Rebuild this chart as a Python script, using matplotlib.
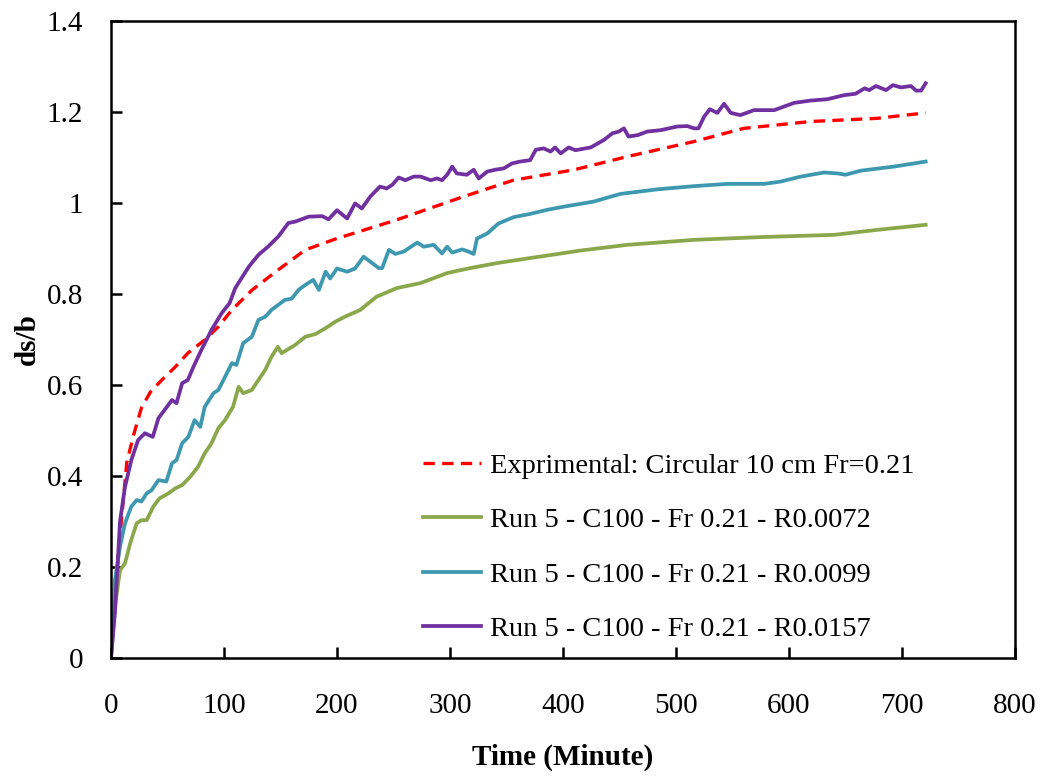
import matplotlib
matplotlib.use("Agg")
import matplotlib.pyplot as plt
from matplotlib.ticker import FuncFormatter

# ---------------- data ----------------
t_exp = [0, 4, 8, 14, 20, 27, 35, 45, 57, 68, 83, 95, 107, 125, 148, 172, 200,
         253, 312, 356, 410, 457, 516, 560, 619, 678, 721]
y_exp = [0, 0.15, 0.27, 0.43, 0.49, 0.55, 0.585, 0.611, 0.64, 0.67, 0.699, 0.728,
         0.765, 0.809, 0.853, 0.897, 0.922, 0.963, 1.014, 1.05, 1.073, 1.102,
         1.135, 1.164, 1.179, 1.186, 1.198]

t_r72 = [0, 3.5, 8, 12.4, 17, 22.7, 27, 31.6, 37.5, 43, 51, 57, 63, 70, 77, 83, 89,
         95, 101, 108, 113, 117, 124.7, 130.5, 136.5, 142, 147.7, 151, 155.7, 163,
         172, 181, 190, 198.5, 207, 220.6, 235, 253, 274, 297.5, 318, 341.8, 371,
         401, 414, 457, 516, 575, 640, 678.5, 721]
y_r72 = [0, 0.113, 0.193, 0.208, 0.252, 0.296, 0.303, 0.303, 0.333, 0.351, 0.362,
         0.373, 0.38, 0.398, 0.42, 0.45, 0.472, 0.505, 0.523, 0.552, 0.596, 0.582,
         0.589, 0.611, 0.633, 0.662, 0.684, 0.67, 0.677, 0.688, 0.706, 0.712, 0.725,
         0.739, 0.75, 0.765, 0.794, 0.813, 0.824, 0.846, 0.857, 0.868, 0.879, 0.89,
         0.895, 0.908, 0.919, 0.925, 0.93, 0.941, 0.952]

t_r99 = [0, 3.5, 8, 12.4, 18, 22.7, 27, 31.6, 36, 42, 49, 54, 58, 63, 68.5, 74, 79,
         83, 90.7, 95, 101, 107, 111, 117, 124.7, 130.5, 136.5, 142, 148, 154, 160,
         166, 172, 179, 184, 190, 194, 200, 209, 216, 223.6, 229.5, 237, 240, 246,
         251.7, 259, 271, 276.8, 285.6, 293, 297.5, 302, 310.8, 316.6, 321, 324,
         333, 343, 356.5, 371, 386, 401, 427, 451, 483.6, 516, 545.6, 578, 592.6,
         610.5, 631, 643, 650, 663.7, 693, 721]
y_r99 = [0, 0.171, 0.245, 0.296, 0.333, 0.347, 0.344, 0.362, 0.369, 0.391, 0.388,
         0.428, 0.435, 0.472, 0.486, 0.523, 0.508, 0.552, 0.582, 0.589, 0.618, 0.648,
         0.644, 0.692, 0.706, 0.743, 0.75, 0.765, 0.776, 0.787, 0.79, 0.809, 0.82,
         0.831, 0.809, 0.849, 0.834, 0.856, 0.849, 0.856, 0.882, 0.871, 0.857, 0.857,
         0.897, 0.888, 0.893, 0.913, 0.904, 0.908, 0.889, 0.904, 0.891, 0.898, 0.893,
         0.888, 0.922, 0.933, 0.955, 0.969, 0.976, 0.985, 0.992, 1.003, 1.02, 1.03,
         1.037, 1.042, 1.042, 1.047, 1.058, 1.067, 1.065, 1.062, 1.071, 1.08, 1.091]

t_r157 = [0, 3.5, 8, 12.4, 18, 24, 30, 37, 42, 54, 58, 63, 68, 73, 80, 89, 98, 105,
          110, 122, 130.5, 139, 148, 157, 163, 175, 187, 192.5, 200, 209, 216, 222,
          229.5, 238, 244, 249, 254.6, 260.5, 268, 274, 283, 288.6, 293, 297.5, 302,
          306, 315, 321, 325.5, 333, 340, 347.6, 355, 362, 371, 376, 383, 389, 393,
          398, 405, 411, 424.5, 436, 443.7, 449.5, 454, 458, 466, 474.7, 486.5, 501,
          510, 516, 520, 525, 530, 536.7, 542.6, 548.5, 557, 569, 587, 604.6, 619,
          634, 649, 659, 667, 671, 677, 686, 692, 699, 708, 712.5, 717, 721]
y_r157 = [0, 0.10, 0.30, 0.376, 0.435, 0.479, 0.494, 0.486, 0.527, 0.567, 0.56,
          0.604, 0.611, 0.64, 0.677, 0.721, 0.758, 0.78, 0.813, 0.86, 0.886, 0.904,
          0.926, 0.956, 0.959, 0.97, 0.971, 0.964, 0.984, 0.966, 0.999, 0.988, 1.014,
          1.036, 1.032, 1.04, 1.056, 1.05, 1.058, 1.058, 1.05, 1.054, 1.05, 1.062,
          1.08, 1.065, 1.062, 1.073, 1.054, 1.069, 1.073, 1.076, 1.087, 1.091, 1.094,
          1.117, 1.12, 1.113, 1.122, 1.109, 1.122, 1.116, 1.122, 1.138, 1.153, 1.157,
          1.164, 1.146, 1.149, 1.157, 1.16, 1.168, 1.169, 1.164, 1.164, 1.19, 1.206,
          1.198, 1.218, 1.198, 1.193, 1.204, 1.204, 1.22, 1.225, 1.228, 1.237, 1.24,
          1.252, 1.248, 1.257, 1.248, 1.259, 1.254, 1.257, 1.247, 1.247, 1.263]

labels = ["Exprimental: Circular 10 cm Fr=0.21",
          "Run 5 - C100 - Fr 0.21 - R0.0072",
          "Run 5 - C100 - Fr 0.21 - R0.0099",
          "Run 5 - C100 - Fr 0.21 - R0.0157"]
x_ticks = [0, 100, 200, 300, 400, 500, 600, 700, 800]
y_ticks = [0, 0.2, 0.4, 0.6, 0.8, 1.0, 1.2, 1.4]
x_label = "Time (Minute)"
y_label = "ds/b"

# ---------------- style ----------------
plt.rcParams['font.family'] = ['Liberation Serif', 'DejaVu Serif']
FS = 21
FS_LEG = 20.5

fig = plt.figure(figsize=(10.42, 7.76), dpi=100)
ax = fig.add_axes([0.1065, 0.152, 0.8675, 0.821])

lw = 2.7
ax.plot(t_exp, y_exp, color='#FF0000', lw=2.4, dashes=(3.4, 2.2), label=labels[0])
ax.plot(t_r72, y_r72, color='#8AA84B', lw=lw, label=labels[1])
ax.plot(t_r99, y_r99, color='#3E98B0', lw=lw, label=labels[2])
ax.plot(t_r157, y_r157, color='#7030A0', lw=lw, label=labels[3])

ax.set_xlim(0, 800)
ax.set_ylim(0, 1.4)
ax.set_xticks(x_ticks)
ax.set_yticks(y_ticks)
ax.yaxis.set_major_formatter(FuncFormatter(lambda v, p: f"{v:g}"))
ax.tick_params(direction='in', length=8, width=1.8, labelsize=FS,
               top=False, right=False)
ax.tick_params(axis='x', pad=25)
ax.tick_params(axis='y', pad=20)
for s in ax.spines.values():
    s.set_linewidth(1.8)
    s.set_color('black')

ax.set_xlabel(x_label, fontsize=FS, fontweight='bold')
ax.set_ylabel(y_label, fontsize=FS, fontweight='bold')
ax.xaxis.set_label_coords(0.5, -0.134)
ax.yaxis.set_label_coords(-0.078, 0.5)

leg = ax.legend(loc='upper left', bbox_to_anchor=(0.345, 0.322), frameon=False,
                fontsize=FS_LEG, handlelength=2.05, handletextpad=0.3,
                labelspacing=1.0, borderpad=0, borderaxespad=0)

fig.savefig("out.png", dpi=100)
